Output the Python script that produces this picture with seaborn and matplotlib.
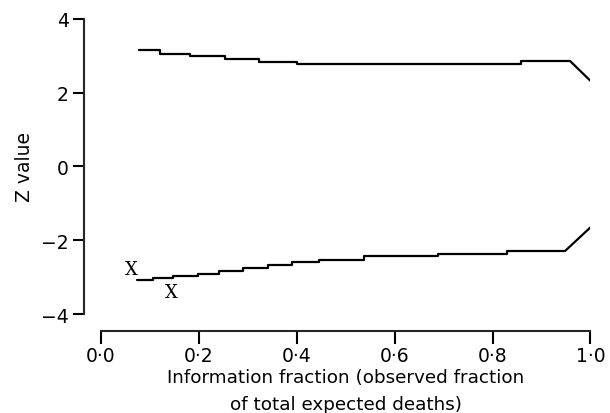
import matplotlib
matplotlib.use("Agg")
from matplotlib import pyplot as plt
import pandas as pd
import seaborn as sns

# upper stopping boundary (step edges on information fraction, Z level)
upper_frac = [0.079, 0.122, 0.182, 0.254, 0.323, 0.400, 0.859, 0.959]
upper_z = [3.16, 3.06, 2.99, 2.91, 2.82, 2.78, 2.85, 2.85]
upper_tail_frac = [0.959, 1.0]
upper_tail_z = [2.85, 2.32]

# lower stopping boundary
lower_frac = [0.075, 0.106, 0.148, 0.199, 0.242, 0.291, 0.342, 0.390,
              0.446, 0.537, 0.689, 0.830, 0.949]
lower_z = [-3.09, -3.03, -2.98, -2.91, -2.82, -2.75, -2.67, -2.60,
           -2.53, -2.44, -2.37, -2.28, -2.28]
lower_tail_frac = [0.949, 1.0]
lower_tail_z = [-2.28, -1.65]

# observed Z values at the interim looks
obs_frac = [0.063, 0.145]
obs_z = [-2.78, -3.41]

x_ticks = [0.0, 0.2, 0.4, 0.6, 0.8, 1.0]
x_tick_labels = ["0·0", "0·2", "0·4", "0·6", "0·8", "1·0"]
y_ticks = [-4, -2, 0, 2, 4]
y_tick_labels = ["−4", "−2", "0", "2", "4"]

sns.set_theme(style="ticks")
plt.rcParams["font.family"] = ["DejaVu Sans"]
plt.rcParams["axes.linewidth"] = 1.5
plt.rcParams["xtick.major.width"] = 1.5
plt.rcParams["ytick.major.width"] = 1.5

fig = plt.figure(figsize=(6.1, 4.14), dpi=100)
ax = fig.add_axes([0.165, 0.239, 0.803, 0.713])

upper = pd.DataFrame({"frac": upper_frac, "z": upper_z})
lower = pd.DataFrame({"frac": lower_frac, "z": lower_z})
sns.lineplot(data=upper, x="frac", y="z", drawstyle="steps-post",
             color="black", linewidth=1.6, ax=ax)
sns.lineplot(data=lower, x="frac", y="z", drawstyle="steps-post",
             color="black", linewidth=1.6, ax=ax)
sns.lineplot(x=upper_tail_frac, y=upper_tail_z, color="black", linewidth=1.6, ax=ax)
sns.lineplot(x=lower_tail_frac, y=lower_tail_z, color="black", linewidth=1.6, ax=ax)

for fx, fz in zip(obs_frac, obs_z):
    ax.text(fx, fz, "X", ha="center", va="center", fontsize=13,
            family="DejaVu Serif", color="black")

ax.set_xlim(0, 1)
ax.set_ylim(-4, 4)
ax.set_xticks(x_ticks)
ax.set_xticklabels(x_tick_labels)
ax.set_yticks(y_ticks)
ax.set_yticklabels(y_tick_labels)
ax.tick_params(axis="x", length=9, pad=2, labelsize=13.5, colors="black")
ax.tick_params(axis="y", length=8, pad=3, labelsize=13.5, colors="black")

ax.set_xlabel("Information fraction (observed fraction\nof total expected deaths)",
              fontsize=13.2, linespacing=1.65, labelpad=2, color="black")
ax.set_ylabel("Z value", fontsize=13.5, labelpad=5, color="black")

sns.despine(ax=ax, offset=12, trim=True)

plt.savefig("out.png", dpi=100)
